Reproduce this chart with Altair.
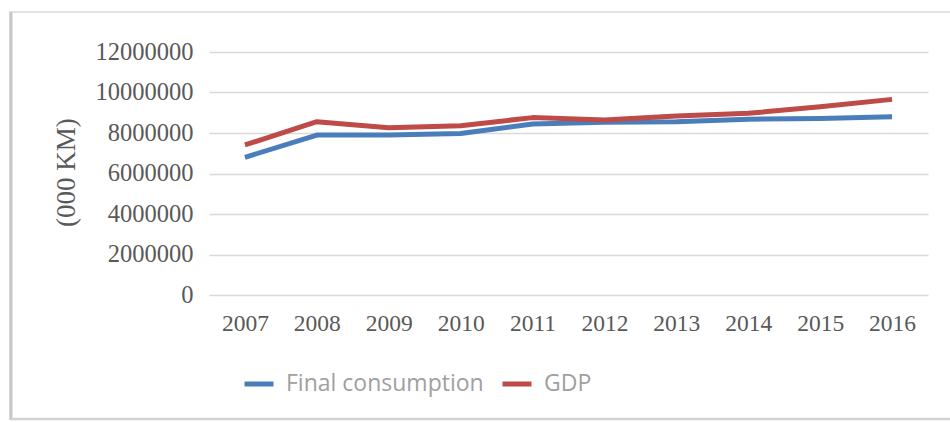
import altair as alt
import pandas as pd

# Annual series, thousand KM
years = ["2007", "2008", "2009", "2010", "2011", "2012", "2013", "2014", "2015", "2016"]
final_consumption = [6800000, 7900000, 7900000, 7980000, 8440000, 8530000, 8560000, 8680000, 8720000, 8800000]
gdp = [7410000, 8560000, 8260000, 8360000, 8760000, 8640000, 8840000, 8970000, 9300000, 9660000]
y_ticks = [0, 2000000, 4000000, 6000000, 8000000, 10000000, 12000000]

series_names = ["Final consumption", "GDP"]
series_colors = ["#4a7ebb", "#be4b48"]

rows = []
for name, values in zip(series_names, [final_consumption, gdp]):
    for yr, v in zip(years, values):
        rows.append({"Year": yr, "Value": v, "Series": name})
df = pd.DataFrame(rows)

W, H = 719, 243
PAD_L, PAD_T = 209, 52

lines = alt.Chart(df).mark_line(strokeWidth=5, strokeCap="butt", strokeJoin="round").encode(
    x=alt.X("Year:O", sort=years,
            scale=alt.Scale(type="point", padding=0.5),
            axis=alt.Axis(title=None, labelAngle=0, labelFont="Liberation Serif",
                          labelFontSize=23.5, labelColor="#595959", labelPadding=16,
                          ticks=False, domain=False, grid=False)),
    y=alt.Y("Value:Q",
            scale=alt.Scale(domain=[0, 12000000], nice=False),
            axis=alt.Axis(title="(000 KM)", values=y_ticks, format="d",
                          labelFont="Liberation Serif", labelFontSize=24.5,
                          labelColor="#595959", labelPadding=16,
                          ticks=False, domain=False, grid=True,
                          gridColor="#d9d9d9", gridWidth=1.5,
                          titleFont="Liberation Serif", titleFontSize=27,
                          titleFontWeight="normal", titleColor="#595959",
                          titleAngle=-90, titleAlign="center", titleBaseline="middle",
                          titleX=-143, titleY=120)),
    color=alt.Color("Series:N", sort=series_names,
                    scale=alt.Scale(domain=series_names, range=series_colors),
                    legend=alt.Legend(title=None, orient="none", direction="horizontal",
                                      legendX=33, legendY=315,
                                      symbolType="stroke", symbolSize=841,
                                      symbolStrokeWidth=5, labelFont="Open Sans",
                                      labelFontSize=23, labelColor="#a0a0a0",
                                      labelLimit=0, labelOffset=10, columnPadding=8)),
)

frame_src = pd.DataFrame({"k": [0]})

# Outer frame around the whole chart
frame = alt.Chart(frame_src).mark_rect(fill=None, stroke="#e4e4e4", strokeWidth=2, clip=False).encode(
    x=alt.value(10 - PAD_L), x2=alt.value(960 - PAD_L),
    y=alt.value(12 - PAD_T), y2=alt.value(419 - PAD_T),
)
left_edge = alt.Chart(frame_src).mark_rule(color="#c8c8c8", strokeWidth=3, clip=False).encode(
    x=alt.value(11 - PAD_L), y=alt.value(12 - PAD_T), y2=alt.value(420 - PAD_T),
)
bottom_edge = alt.Chart(frame_src).mark_rule(color="#d2d2d2", strokeWidth=2.5, clip=False).encode(
    x=alt.value(11 - PAD_L), x2=alt.value(960 - PAD_L), y=alt.value(419 - PAD_T),
)

chart = alt.layer(frame, left_edge, bottom_edge, lines).properties(
    width=W, height=H,
    padding={"left": PAD_L, "top": PAD_T, "right": 950 - PAD_L - W, "bottom": 422 - PAD_T - H},
    autosize=alt.AutoSizeParams(type="none"),
    background="white",
).configure_view(stroke=None)

chart.save("out.html", embed_options={"renderer": "svg", "actions": False})
